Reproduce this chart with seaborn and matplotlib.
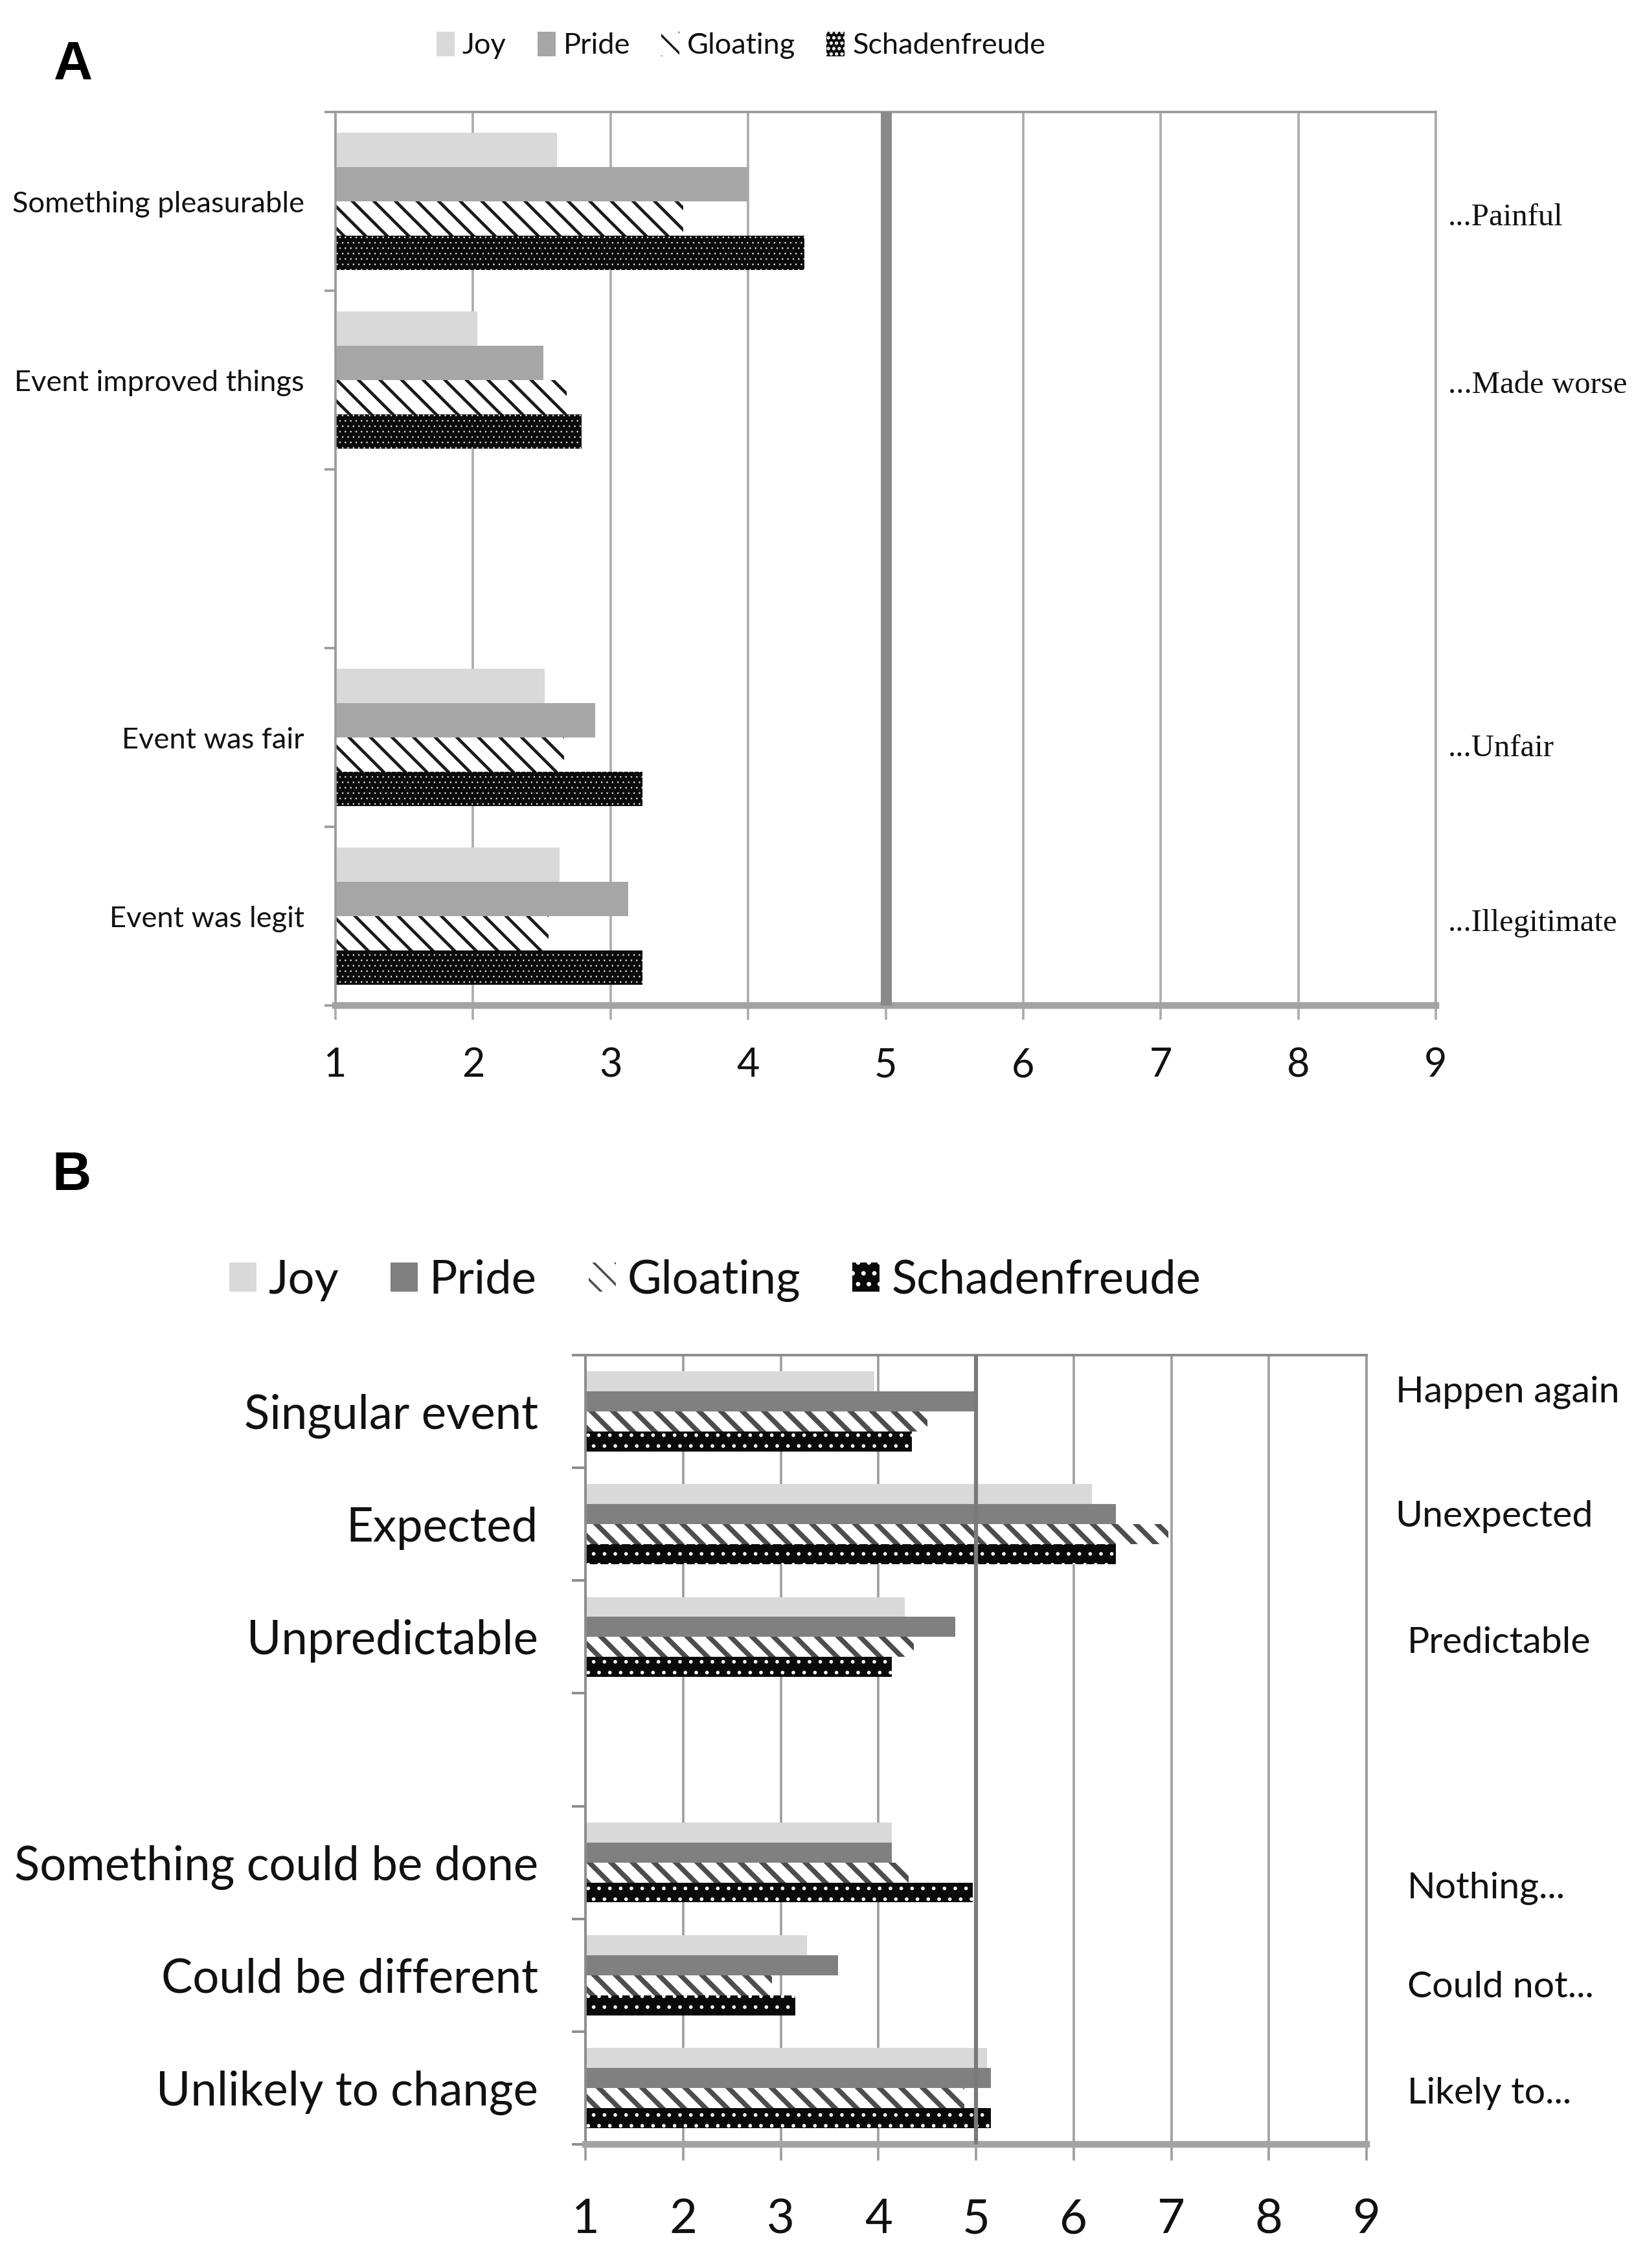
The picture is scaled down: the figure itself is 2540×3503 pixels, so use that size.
import numpy as np
import pandas as pd
import matplotlib
matplotlib.use("Agg")
import matplotlib.pyplot as plt
import matplotlib.transforms as mtransforms
from matplotlib.patches import Patch
import seaborn as sns

# ---------------- data ----------------
emotions = ["Joy", "Pride", "Gloating", "Schadenfreude"]

a_items = ["Something pleasurable", "Event improved things", "Event was fair", "Event was legit"]
a_right = ["...Painful", "...Made worse", "...Unfair", "...Illegitimate"]
a_joy = [2.61, 2.03, 2.52, 2.63]
a_pride = [4.00, 2.51, 2.89, 3.13]
a_gloating = [3.53, 2.68, 2.66, 2.55]
a_schadenfreude = [4.41, 2.79, 3.23, 3.23]

b_items = ["Singular event", "Expected", "Unpredictable",
           "Something could be done", "Could be different", "Unlikely to change"]
b_right = ["Happen again", "Unexpected", "Predictable", "Nothing...", "Could not...", "Likely to..."]
b_joy = [3.96, 6.19, 4.27, 4.14, 3.27, 5.11]
b_pride = [4.98, 6.43, 4.79, 4.14, 3.59, 5.15]
b_gloating = [4.50, 6.97, 4.36, 4.31, 2.91, 4.88]
b_schadenfreude = [4.34, 6.43, 4.14, 4.97, 3.15, 5.15]

x_ticks = [1, 2, 3, 4, 5, 6, 7, 8, 9]
midpoint = 5


def long_df(items, series):
    rows = []
    for emo, vals in zip(emotions, series):
        for it, v in zip(items, vals):
            rows.append({"item": it, "emotion": emo, "score": v})
    return pd.DataFrame(rows)


df_a = long_df(a_items, [a_joy, a_pride, a_gloating, a_schadenfreude])
df_b = long_df(b_items, [b_joy, b_pride, b_gloating, b_schadenfreude])

# ---------------- layout / style ----------------
sns.set_theme(style="white")
LATO = ["Lato", "DejaVu Sans"]
SERIF = ["Liberation Serif", "DejaVu Serif"]
BOLD = ["Liberation Sans", "DejaVu Sans"]
plt.rcParams["font.family"] = LATO
plt.rcParams["hatch.linewidth"] = 2.5

W, H = 2540, 3503
fig = plt.figure(figsize=(W / 100, H / 100), dpi=100)
renderer = fig.canvas.get_renderer()
PX = 72 / 100  # px -> pt


def fit(text, family, target_px, **kw):
    t = fig.text(0, 0, text, fontsize=50, family=family, **kw)
    w = t.get_window_extent(renderer=renderer).width
    t.remove()
    return 50 * target_px / w


a_fs = fit("Something pleasurable", LATO, 450)
a_leg_fs = fit("Schadenfreude", LATO, 298)
a_serif_fs = fit("...Illegitimate", SERIF, 262)
b_fs = fit("Something could be done", LATO, 809)
b_right_fs = fit("Unexpected", LATO, 305)
b_leg_fs = fit("Schadenfreude", LATO, 477)


def fig_rect(l, t, r, b):
    return [l / W, 1 - b / H, (r - l) / W, (b - t) / H]


def set_hlw(p, lw):
    if hasattr(p, "set_hatch_linewidth"):
        p.set_hatch_linewidth(lw)


def style_patch(p, st):
    p.set_facecolor(st["face"])
    p.set_edgecolor(st["edge"])
    p.set_linewidth(0)
    p.set_hatch(st["hatch"])
    set_hlw(p, st["hlw"])


styles_a = {
    "Joy": dict(face="#d9d9d9", edge="#d9d9d9", hatch=None, hlw=1),
    "Pride": dict(face="#a6a6a6", edge="#a6a6a6", hatch=None, hlw=1),
    "Gloating": dict(face="white", edge="#1a1a1a", hatch="\\", hlw=3.4),
    "Schadenfreude": dict(face="#0a0a0a", edge="white", hatch="..", hlw=0.5),
}
styles_b = {
    "Joy": dict(face="#d9d9d9", edge="#d9d9d9", hatch=None, hlw=1),
    "Pride": dict(face="#808080", edge="#808080", hatch=None, hlw=1),
    "Gloating": dict(face="white", edge="#4d4d4d", hatch="\\", hlw=5.5),
    "Schadenfreude": dict(face="#0a0a0a", edge="white", hatch=".", hlw=1.6),
}


def panel(ax, df, order, labels, styles, width, fs, fam, tick_fs, ypad, xpad,
          grid_c, grid_lw, spine_c, spine_lw, bottom_lw, ytick_len, xtick_len,
          mid_c, mid_lw):
    sns.barplot(data=df, y="item", x="score", hue="emotion", order=order,
                hue_order=emotions, orient="h", width=width, dodge=True,
                palette={e: styles[e]["face"] for e in emotions}, saturation=1,
                errorbar=None, legend=False, ax=ax)
    for cont, emo in zip(ax.containers, emotions):
        for bar in cont:
            style_patch(bar, styles[emo])
    n = len(order)
    ax.set_xlim(x_ticks[0], x_ticks[-1])
    ax.set_ylim(n - 0.5, -0.5)
    ax.set_xlabel("")
    ax.set_ylabel("")
    ax.set_xticks(x_ticks)
    ax.set_xticklabels([str(v) for v in x_ticks], fontsize=tick_fs, family=fam)
    ax.set_yticks(range(n))
    ax.set_yticklabels(labels, fontsize=fs, family=fam)
    ax.set_yticks(np.arange(-0.5, n, 1.0), minor=True)
    ax.tick_params(axis="y", which="major", length=0, pad=ypad, colors="#111111")
    ax.tick_params(axis="y", which="minor", length=ytick_len * PX, width=spine_lw,
                   color=spine_c, left=True)
    ax.tick_params(axis="x", which="major", length=xtick_len * PX, width=grid_lw,
                   color=grid_c, pad=xpad, bottom=True, labelcolor="#111111")
    ax.grid(axis="x", color=grid_c, lw=grid_lw)
    ax.grid(axis="y", visible=False)
    ax.set_axisbelow(True)
    for side in ["left", "top", "right"]:
        ax.spines[side].set_visible(True)
        ax.spines[side].set_color(spine_c)
        ax.spines[side].set_linewidth(spine_lw)
    ax.spines["right"].set_color(grid_c)
    ax.spines["bottom"].set_color("#a3a3a3")
    ax.spines["bottom"].set_linewidth(bottom_lw)
    ax.axvline(midpoint, color=mid_c, lw=mid_lw, zorder=3)


# ---------------- Panel A ----------------
ax_a = fig.add_axes(fig_rect(518, 173, 2217, 1553))
a_order = a_items[:2] + [" "] + a_items[2:]
panel(ax_a, df_a, a_order, a_order, styles_a, 0.77, a_fs, LATO, 44,
      ypad=48 * PX, xpad=42 * PX, grid_c="#ababab", grid_lw=2.6, spine_c="#9a9a9a",
      spine_lw=2.6, bottom_lw=7.5, ytick_len=17, xtick_len=22,
      mid_c="#8a8a8a", mid_lw=17 * PX)
tr_a = mtransforms.blended_transform_factory(ax_a.transAxes, ax_a.transData)
a_right_dy = [0.09, 0.03, 0.06, 0.04]
for lab, item, dy in zip(a_right, a_items, a_right_dy):
    ax_a.text(1.011, a_order.index(item) + dy, lab, transform=tr_a, ha="left",
              va="center", fontsize=a_serif_fs, family=SERIF, color="#111111")

# ---------------- Panel B ----------------
ax_b = fig.add_axes(fig_rect(904, 2093, 2110, 3312))
b_order = b_items[:3] + [" "] + b_items[3:]
panel(ax_b, df_b, b_order, b_order, styles_b, 0.71, b_fs, LATO, b_fs * 1.02,
      ypad=73 * PX, xpad=58 * PX, grid_c="#9c9c9c", grid_lw=2.6, spine_c="#8c8c8c",
      spine_lw=2.8, bottom_lw=7.5, ytick_len=21, xtick_len=25,
      mid_c="#7a7a7a", mid_lw=4.5)
tr_b = mtransforms.blended_transform_factory(ax_b.transAxes, ax_b.transData)
b_right_x = [1.037, 1.037, 1.052, 1.052, 1.052, 1.052]
b_right_dy = [-0.17, -0.07, 0.05, 0.23, 0.11, 0.05]
for lab, item, xx, dy in zip(b_right, b_items, b_right_x, b_right_dy):
    ax_b.text(xx, b_order.index(item) + dy, lab, transform=tr_b, ha="left",
              va="center", fontsize=b_right_fs, family=LATO, color="#111111")

# ---------------- legends ----------------
def legend_handles(styles):
    hs = []
    for e in emotions:
        st = styles[e]
        p = Patch(facecolor=st["face"], edgecolor=st["edge"], hatch=st["hatch"], lw=0)
        set_hlw(p, st["hlw"])
        hs.append(p)
    return hs


em_a = a_leg_fs * 100 / 72
fig.legend(handles=legend_handles(styles_a), labels=emotions, loc="center",
           bbox_to_anchor=(1144 / W, 1 - 70 / H), ncol=4, frameon=False,
           prop={"family": LATO, "size": a_leg_fs},
           handlelength=28 / em_a, handleheight=41 / em_a,
           handletextpad=12 / em_a, columnspacing=48 / em_a, borderpad=0,
           labelcolor="#111111")

em_b = b_leg_fs * 100 / 72
fig.legend(handles=legend_handles(styles_b), labels=emotions, loc="center",
           bbox_to_anchor=(1104 / W, 1 - 1978 / H), ncol=4, frameon=False,
           prop={"family": LATO, "size": b_leg_fs},
           handlelength=42 / em_b, handleheight=43 / em_b,
           handletextpad=18 / em_b, columnspacing=80 / em_b, borderpad=0,
           labelcolor="#111111")

# ---------------- panel letters ----------------
fig.text(113 / W, 1 - 100 / H, "A", fontsize=60, fontweight="bold", family=BOLD,
         ha="center", va="center", color="black")
fig.text(110 / W, 1 - 1816 / H, "B", fontsize=60, fontweight="bold", family=BOLD,
         ha="center", va="center", color="black")

fig.savefig("out.png", dpi=100, facecolor="white")
